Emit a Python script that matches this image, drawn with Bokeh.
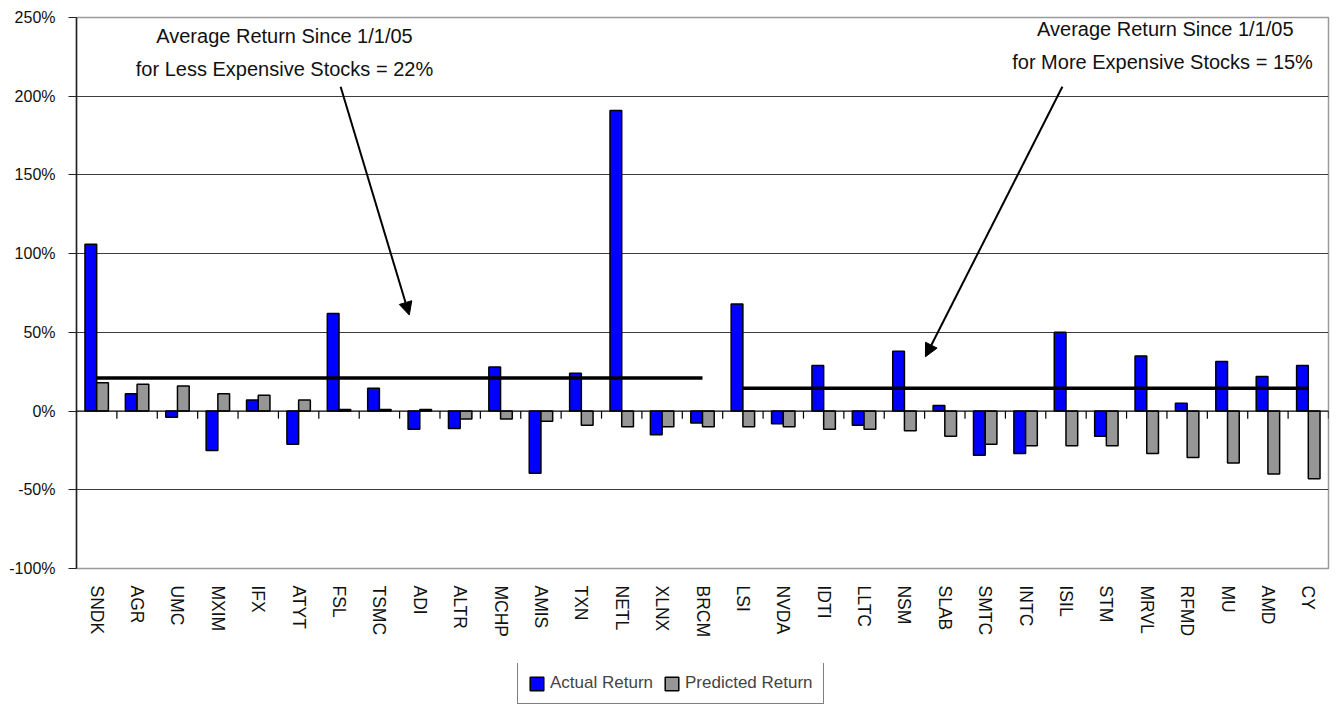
from bokeh.plotting import figure
from bokeh.layouts import column
from bokeh.models import (Range1d, FixedTicker, CustomJSTickFormatter, Legend, LegendItem,
                          Label, Arrow, NormalHead, Span)
from bokeh.embed import file_html
from bokeh.resources import INLINE

tickers = ["SNDK", "AGR", "UMC", "MXIM", "IFX", "ATYT", "FSL", "TSMC", "ADI", "ALTR", "MCHP",
           "AMIS", "TXN", "NETL", "XLNX", "BRCM", "LSI", "NVDA", "IDTI", "LLTC", "NSM", "SLAB",
           "SMTC", "INTC", "ISIL", "STM", "MRVL", "RFMD", "MU", "AMD", "CY"]
actual_return = [106, 11, -4, -25, 7, -21, 62, 14.5, -11.5, -11, 28, -39.5, 24, 191, -15, -7.5,
                 68, -8, 29, -9, 38, 3.5, -28, -27, 50, -16, 35, 5, 31.5, 22, 29]
predicted_return = [18, 17, 16, 11, 10, 7, 1, 1, 1, -5, -5, -6.5, -9, -10, -10, -10,
                    -10, -10, -11.5, -11.5, -12.5, -16, -21, -22, -22, -22, -27, -29.5, -33, -40, -43]
less_expensive_count = 16
less_expensive_avg = 21
more_expensive_avg = 14.5
y_ticks = [-100, -50, 0, 50, 100, 150, 200, 250]
series_names = ["Actual Return", "Predicted Return"]
series_colors = ["#0000ff", "#969696"]

FONT = "Liberation Sans"
n = len(tickers)
idx = list(range(n))

p = figure(frame_width=1252, frame_height=551, output_backend="svg", toolbar_location=None,
           x_range=Range1d(0, n), y_range=Range1d(-100, 250),
           min_border_left=76, min_border_right=9, min_border_top=17, min_border_bottom=95)
p.background_fill_color = "white"
p.outline_line_color = "#9a9a9a"
p.outline_line_width = 1.5

p.xgrid.visible = False
p.ygrid.ticker = FixedTicker(ticks=[t for t in y_ticks if -100 < t < 250 and t != 0])
p.ygrid.grid_line_color = "#3c3c3c"
p.ygrid.grid_line_width = 1.2

# y axis
p.yaxis.ticker = FixedTicker(ticks=y_ticks)
p.yaxis.formatter = CustomJSTickFormatter(code="return tick + '%';")
p.yaxis.axis_line_color = "#222222"
p.yaxis.axis_line_width = 1.5
p.yaxis.major_tick_in = 0
p.yaxis.major_tick_out = 8
p.yaxis.major_tick_line_color = "#222222"
p.yaxis.minor_tick_line_color = None
p.yaxis.major_label_text_font = FONT
p.yaxis.major_label_text_font_size = "16px"
p.yaxis.major_label_text_color = "#111111"
p.yaxis.major_label_standoff = 13

# x axis: category labels at the bottom
p.xaxis.ticker = FixedTicker(ticks=[i + 0.5 for i in idx])
p.xaxis.formatter = CustomJSTickFormatter(args=dict(names=tickers),
                                          code="return names[Math.floor(tick)] || '';")
p.xaxis.axis_line_color = None
p.xaxis.major_tick_line_color = None
p.xaxis.major_tick_in = 0
p.xaxis.major_tick_out = 0
p.xaxis.minor_tick_line_color = None
p.xaxis.major_label_orientation = "vertical"
p.xaxis.major_label_text_font = FONT
p.xaxis.major_label_text_font_size = "17.5px"
p.xaxis.major_label_text_color = "#111111"
p.xaxis.major_label_standoff = 17

series_values = [actual_return, predicted_return]
offsets = [0.355, 0.645]
for vals, col, off in zip(series_values, series_colors, offsets):
    p.vbar(x=[i + off for i in idx], top=vals, bottom=0, width=0.29,
           fill_color=col, line_color="black", line_width=1.5)

# zero axis line with tick marks
p.add_layout(Span(location=0, dimension="width", line_color="black", line_width=1.2))
p.segment(x0=[i + 1 for i in idx], x1=[i + 1 for i in idx], y0=0, y1=-4.8,
          line_color="black", line_width=1.2)

# average lines
p.line(x=[0.5, less_expensive_count - 0.5], y=[less_expensive_avg] * 2,
       line_color="black", line_width=3.5)
p.line(x=[less_expensive_count + 0.5, n - 0.5], y=[more_expensive_avg] * 2,
       line_color="black", line_width=3.5)

# annotations
for txt, x, y in [("Average Return Since 1/1/05", 5.15, 238.5),
                  ("for Less Expensive Stocks = 22%", 5.15, 217.5),
                  ("Average Return Since 1/1/05", 26.96, 243),
                  ("for More Expensive  Stocks = 15%", 26.96, 221.5)]:
    p.add_layout(Label(x=x, y=y, text=txt, text_align="center", text_baseline="middle",
                       text_font=FONT, text_font_size="20px", text_color="#111111"))

p.add_layout(Arrow(end=NormalHead(size=13, fill_color="black", line_color="black"),
                   x_start=6.54, y_start=206, x_end=8.24, y_end=61,
                   line_color="black", line_width=2))
p.add_layout(Arrow(end=NormalHead(size=13, fill_color="black", line_color="black"),
                   x_start=24.41, y_start=206, x_end=21.02, y_end=34.5,
                   line_color="black", line_width=2))

# legend strip below the chart (same series, renderers hidden; only the legend shows)
leg = figure(width=1337, height=41, output_backend="svg", toolbar_location=None,
             x_axis_type=None, y_axis_type=None, x_range=Range1d(0, n), y_range=Range1d(500, 501),
             min_border_left=0, min_border_right=0, min_border_top=0, min_border_bottom=0)
leg.outline_line_color = None
leg.background_fill_color = "white"
items = []
for name, vals, col, off in zip(series_names, series_values, series_colors, offsets):
    r = leg.vbar(x=[i + off for i in idx], top=vals, bottom=0, width=0.29,
                 fill_color=col, line_color="black", line_width=1.5)
    r.visible = False
    items.append(LegendItem(label=name, renderers=[r]))
legend = Legend(items=items, orientation="horizontal", location=(441, 0),
                border_line_color="black", border_line_width=1,
                label_text_font=FONT, label_text_font_size="17px",
                glyph_width=17, glyph_height=17, label_standoff=5, spacing=10,
                padding=10, margin=0, label_height=20)
leg.add_layout(legend, "center")

layout = column(p, leg, spacing=0)
open("out.html", "w").write(file_html(layout, INLINE))
